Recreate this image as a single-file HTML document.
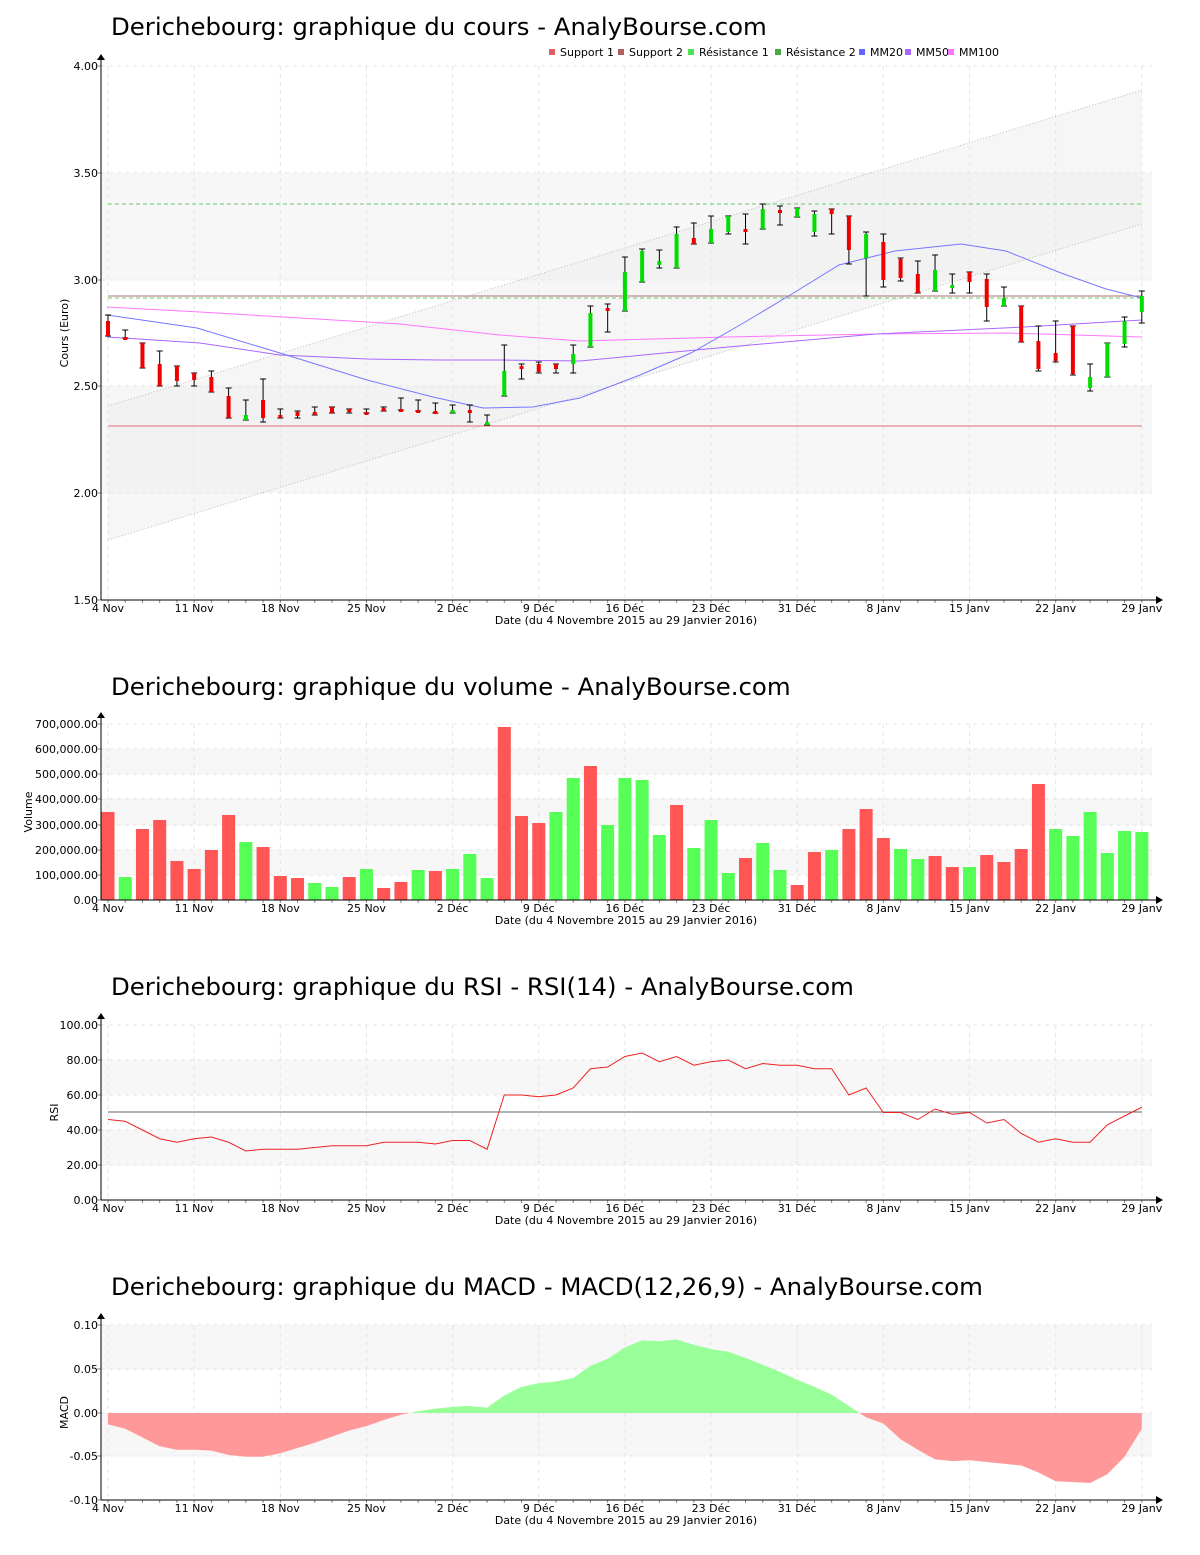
<!DOCTYPE html>
<html><head><meta charset="utf-8"><style>
body{margin:0;background:#fff;}
svg text{font-family:"DejaVu Sans","Liberation Sans",sans-serif;}
</style></head><body>
<svg id="s" width="1200" height="1550" xmlns="http://www.w3.org/2000/svg"></svg>
<script>
const S=document.getElementById('s');let h='';
const X=i=>108+17.23*i;
const days=[["4 Nov",0],["11 Nov",5],["18 Nov",10],["25 Nov",15],["2 Déc",20],["9 Déc",25],["16 Déc",30],["23 Déc",35],["31 Déc",40],["8 Janv",45],["15 Janv",50],["22 Janv",55],["29 Janv",60]];
function frame(top,bot,labels,ytitle,title,ty,bands,tx){
  h+=`<text x="111" y="${ty}" font-size="24.4" fill="#000">${title}</text>`;
  bands.forEach(b=>h+=`<rect x="101" y="${b[0]}" width="1051" height="${b[1]-b[0]}" fill="#f7f7f7"/>`);
  labels.forEach(l=>{h+=`<line x1="101" x2="1152" y1="${l[1]}" y2="${l[1]}" stroke="#e4e4e4" stroke-dasharray="4,4"/>`;
    h+=`<text x="98" y="${l[1]+4}" font-size="11" text-anchor="end">${l[0]}</text><line x1="97" x2="101" y1="${l[1]}" y2="${l[1]}" stroke="#888"/>`;});
  days.forEach(d=>{h+=`<line x1="${X(d[1])}" x2="${X(d[1])}" y1="${top}" y2="${bot}" stroke="#e4e4e4" stroke-dasharray="4,4"/>`;
    h+=`<text x="${X(d[1])}" y="${bot+12}" font-size="11" text-anchor="middle">${d[0]}</text>`;});
  for(let i=0;i<=60;i++)h+=`<line x1="${X(i)}" x2="${X(i)}" y1="${bot}" y2="${bot+3}" stroke="#888"/>`;
  h+=`<text x="626" y="${bot+24}" font-size="11" text-anchor="middle">Date (du 4 Novembre 2015 au 29 Janvier 2016)</text>`;
  h+=`<text transform="translate(${tx},${(top+bot)/2}) rotate(-90)" font-size="11" text-anchor="middle">${ytitle}</text>`;
}
function axes(top,bot){
  h+=`<line x1="101" x2="101" y1="${top-8}" y2="${bot}" stroke="#000"/><line x1="101" x2="1160" y1="${bot}" y2="${bot}" stroke="#000"/>`;
  h+=`<path d="M97 ${top-6} L101 ${top-12} L105 ${top-6}Z M1156 ${bot-4} L1163 ${bot} L1156 ${bot+4}Z" fill="#000"/>`;
}
// PRICE
frame(66,600,[["4.00",66],["3.50",173],["3.00",280],["2.50",386],["2.00",493],["1.50",600]],"Cours (Euro)","Derichebourg: graphique du cours - AnalyBourse.com",35,[[173,280],[386,493]],68);
h+=`<polygon points="108,406 1142,90 1142,224 108,540" fill="#ebebeb" opacity="0.45"/>`;
h+=`<line x1="108" y1="406" x2="1142" y2="90" stroke="#bbb" stroke-dasharray="1,2"/><line x1="108" y1="540" x2="1142" y2="224" stroke="#bbb" stroke-dasharray="1,2"/>`;
h+=`<line x1="108" x2="1142" y1="426" y2="426" stroke="#e07070"/><line x1="108" x2="1142" y1="296" y2="296" stroke="#b07070"/>`;
h+=`<line x1="108" x2="1142" y1="204" y2="204" stroke="#66cc66" stroke-dasharray="4,3"/><line x1="108" x2="1142" y1="298" y2="298" stroke="#66cc66" stroke-dasharray="4,3"/>`;
const pl=(pts,c)=>h+=`<polyline points="${pts}" fill="none" stroke="${c}" stroke-width="1"/>`;
pl("107,307 200,312 300,318 400,324 500,335 580,341 728,337 876,334 1006,333 1142,337","#ff77ff");
pl("107,337 200,343 280,355 367,359 440,360 500,360 580,361 728,347 876,334 1024,327 1142,320","#aa66ff");
pl("107,315 197,328 280,353 367,380 433,397 483,408 533,407 580,398 640,375 691,353 740,325 787,297 839,265 895,251 961,244 1006,251 1061,273 1106,289 1142,298","#7777ff");
const C=[[315,336,321,336,'r'],[330,338,337,339,'r'],[343,368,343,368,'r'],[351,386,364,386,'r'],[366,386,366,381,'r'],[373,386,373,380,'r'],[371,392,377,392,'r'],[388,418,396,418,'r'],[400,420,415,420,'g'],[379,422,400,418,'r'],[409,418,415,418,'r'],[411,418,412,416,'r'],[407,415,412,414,'r'],[407,413,407,413,'r'],[409,413,409,412,'r'],[409,413,412,414,'r'],[407,411,408,410,'r'],[398,410,409,411,'r'],[400,411,410,412,'r'],[403,413,411,413,'r'],[405,413,410,413,'g'],[405,422,410,413,'r'],[415,425,422,425,'g'],[345,396,371,396,'g'],[364,379,366,369,'r'],[362,373,364,372,'r'],[364,373,364,369,'r'],[345,373,354,364,'g'],[306,347,313,347,'g'],[304,332,308,311,'r'],[257,311,272,311,'g'],[249,282,251,282,'g'],[250,268,261,265,'g'],[227,268,234,268,'g'],[223,244,238,244,'r'],[216,243,229,243,'g'],[216,234,216,232,'g'],[214,244,229,232,'r'],[204,229,209,229,'g'],[206,225,210,213,'r'],[208,217,208,217,'g'],[211,236,214,232,'g'],[209,234,209,214,'r'],[216,264,216,250,'r'],[232,296,234,258,'g'],[234,287,242,280,'r'],[258,281,259,278,'r'],[261,293,274,293,'r'],[255,291,270,291,'g'],[274,293,285,288,'g'],[272,293,272,282,'r'],[274,321,279,307,'r'],[287,306,298,306,'g'],[306,342,306,342,'r'],[326,371,341,369,'r'],[321,362,353,361,'r'],[326,375,326,374,'r'],[364,391,377,388,'g'],[343,377,343,377,'g'],[317,347,321,344,'g'],[291,323,296,312,'g']];
C.forEach((c,i)=>{const x=X(i);h+=`<line x1="${x}" x2="${x}" y1="${c[0]}" y2="${c[1]}" stroke="#000"/><line x1="${x-3}" x2="${x+3}" y1="${c[0]}" y2="${c[0]}" stroke="#000"/><line x1="${x-3}" x2="${x+3}" y1="${c[1]}" y2="${c[1]}" stroke="#000"/>`;
 h+=`<rect x="${x-2}" y="${c[2]}" width="4" height="${Math.max(3,c[3]-c[2])}" fill="${c[4]=='r'?'#ee0000':'#00dd00'}"/>`;});
axes(66,600);
const lg=[["Support 1","#e06060",549],["Support 2","#b06060",618],["Résistance 1","#55dd55",688],["Résistance 2","#44aa44",775],["MM20","#6666ff",859],["MM50","#aa66ff",905],["MM100","#ff77ff",948]];
lg.forEach(l=>h+=`<rect x="${l[2]}" y="49" width="6" height="6" fill="${l[1]}"/><text x="${l[2]+11}" y="56" font-size="11">${l[0]}</text>`);
// VOLUME
const V=[812,877,829,820,861,869,850,815,842,847,876,878,883,887,877,869,888,882,870,871,869,854,878,727,816,823,812,778,766,825,778,780,835,805,848,820,873,858,843,870,885,852,850,829,809,838,849,859,856,867,867,855,862,849,784,829,836,812,853,831,832];
const VC="rgrrrrrrgrrrggrgrrgrgggrrrggrggggrgggrggrrgrrrggrrgrrrrgggg".split('');VC.splice(60,0,'g');
frame(724,900,[["700,000.00",724],["600,000.00",749],["500,000.00",774],["400,000.00",799],["300,000.00",825],["200,000.00",850],["100,000.00",875],["0.00",900]],"Volume","Derichebourg: graphique du volume - AnalyBourse.com",695,[[749,774],[799,825],[850,875]],32);
V.forEach((v,i)=>h+=`<rect x="${X(i)-6.5}" y="${v}" width="13" height="${900-v}" fill="${VC[i]=='r'?'#ff5555':'#55ff55'}"/>`);
axes(724,900);
// RSI
const R=[46,45,40,35,33,35,36,33,28,29,29,29,30,31,31,31,33,33,33,32,34,34,29,60,60,59,60,64,75,76,82,84,79,82,77,79,80,75,78,77,77,75,75,60,64,50,50,46,52,49,50,44,46,38,33,35,33,33,43,48,53];
const ry=v=>1200-v*1.75;
frame(1025,1200,[["100.00",1025],["80.00",1060],["60.00",1095],["40.00",1130],["20.00",1165],["0.00",1200]],"RSI","Derichebourg: graphique du RSI - RSI(14) - AnalyBourse.com",995,[[1060,1095],[1130,1165]],58);
h+=`<line x1="108" x2="1142" y1="1112" y2="1112" stroke="#666"/>`;
pl(R.map((v,i)=>X(i)+","+ry(v)).join(" "),"#ee2222");
axes(1025,1200);
// MACD
const M=[-.013,-.018,-.028,-.038,-.042,-.042,-.043,-.048,-.05,-.05,-.046,-.04,-.034,-.027,-.02,-.015,-.008,-.002,.002,.005,.007,.008,.006,.02,.03,.034,.036,.04,.054,.062,.075,.083,.082,.084,.078,.073,.07,.063,.055,.047,.038,.03,.021,.008,-.005,-.012,-.03,-.042,-.053,-.055,-.054,-.056,-.058,-.06,-.068,-.078,-.079,-.08,-.07,-.05,-.018];
const my=v=>1413-v*875;
frame(1325,1500,[["0.10",1325],["0.05",1369],["0.00",1413],["-0.05",1456],["-0.10",1500]],"MACD","Derichebourg: graphique du MACD - MACD(12,26,9) - AnalyBourse.com",1295,[[1325,1369],[1413,1456]],68);
let pts=M.map((v,i)=>X(i)+","+my(v)).join(" ");
h+=`<defs><clipPath id="up"><rect x="100" y="1300" width="1060" height="113"/></clipPath><clipPath id="dn"><rect x="100" y="1413" width="1060" height="100"/></clipPath></defs>`;
const poly=`${X(0)},1413 ${pts} ${X(60)},1413`;
h+=`<polygon points="${poly}" fill="#99ff99" clip-path="url(#up)"/><polygon points="${poly}" fill="#ff9999" clip-path="url(#dn)"/>`;
axes(1325,1500);
S.innerHTML=h;
</script>
</body></html>
